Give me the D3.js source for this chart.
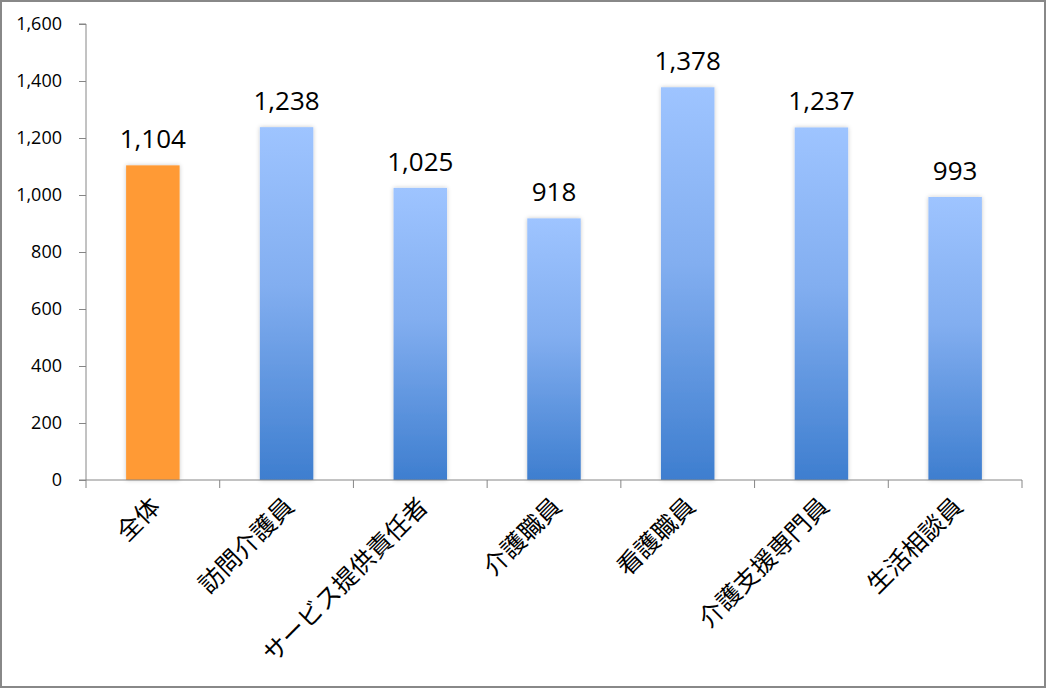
<!DOCTYPE html>
<html>
<head>
<meta charset="utf-8">
<script src="https://cdn.jsdelivr.net/npm/d3@7"></script>
<style>
  html, body { margin: 0; padding: 0; background: #fff; }
  svg { display: block; }
</style>
</head>
<body>
<script>
const categories = ["全体", "訪問介護員", "サービス提供責任者", "介護職員", "看護職員", "介護支援専門員", "生活相談員"];
const values = [1104, 1238, 1025, 918, 1378, 1237, 993];
const yTicks = [0, 200, 400, 600, 800, 1000, 1200, 1400, 1600];

const W = 1046, H = 688;
const margin = { left: 86, top: 24 };
const plotRight = 1022, plotBottom = 480;

const svg = d3.select("body").append("svg").attr("width", W).attr("height", H);
const defs = svg.append("defs");

const grad = defs.append("linearGradient").attr("id", "blueGrad")
  .attr("x1", 0).attr("y1", 0).attr("x2", 0).attr("y2", 1);
grad.append("stop").attr("offset", "0%").attr("stop-color", "#9EC4FF");
grad.append("stop").attr("offset", "45%").attr("stop-color", "#82AEF0");
grad.append("stop").attr("offset", "100%").attr("stop-color", "#3E7ECF");

const filt = defs.append("filter").attr("id", "shadow").attr("x", "-20%").attr("y", "-5%").attr("width", "140%").attr("height", "110%");
filt.append("feDropShadow").attr("dx", 0).attr("dy", 0).attr("stdDeviation", 2)
  .attr("flood-color", "#000").attr("flood-opacity", 0.22);

svg.append("rect").attr("x", 1).attr("y", 1).attr("width", W - 2).attr("height", H - 2)
  .attr("fill", "#fff").attr("stroke", "#888").attr("stroke-width", 2);

const x = d3.scaleBand().domain(categories).range([margin.left, plotRight]).paddingInner(0.6).paddingOuter(0.3);
const y = d3.scaleLinear().domain([0, 1600]).range([plotBottom, margin.top]);

// bars
svg.append("g").selectAll("rect").data(values).join("rect")
  .attr("x", (d, i) => x(categories[i]))
  .attr("y", d => y(d))
  .attr("width", x.bandwidth())
  .attr("height", d => y(0) - y(d))
  .attr("fill", (d, i) => i === 0 ? "#FF9A35" : "url(#blueGrad)")
  .attr("filter", "url(#shadow)");

// y axis
const yAxis = d3.axisLeft(y).tickValues(yTicks).tickSize(7).tickPadding(17).tickFormat(d3.format(","));
const gy = svg.append("g").attr("transform", `translate(${margin.left},0)`).call(yAxis);
gy.select(".domain").attr("stroke", "#868686").attr("d", `M-7,${margin.top}H0V${plotBottom}H-7`);
gy.selectAll(".tick line").attr("stroke", "#868686");
gy.selectAll(".tick text").attr("font-family", "'Open Sans', 'Liberation Sans', sans-serif")
  .attr("font-size", 18).attr("fill", "#000");

// x axis line with ticks at category boundaries
const bounds = d3.range(categories.length + 1).map(i => margin.left + i * (plotRight - margin.left) / categories.length);
const gx = svg.append("g");
gx.append("line").attr("x1", margin.left).attr("x2", plotRight).attr("y1", plotBottom).attr("y2", plotBottom)
  .attr("stroke", "#868686");
gx.selectAll("line.bt").data(bounds).join("line").attr("class", "bt")
  .attr("x1", d => d).attr("x2", d => d).attr("y1", plotBottom).attr("y2", plotBottom + 8)
  .attr("stroke", "#868686");

// category labels
svg.append("g").selectAll("text").data(categories).join("text")
  .attr("transform", d => `translate(${x(d) + x.bandwidth() / 2 + 3},${plotBottom + 22}) rotate(-45)`)
  .attr("text-anchor", "end")
  .attr("dy", "0.35em")
  .attr("font-family", "'Noto Sans CJK JP', sans-serif")
  .attr("font-size", 24.5)
  .attr("fill", "#000")
  .text(d => d);

// value labels
svg.append("g").selectAll("text").data(values).join("text")
  .attr("x", (d, i) => x(categories[i]) + x.bandwidth() / 2)
  .attr("y", d => y(d) - 17)
  .attr("text-anchor", "middle")
  .attr("font-family", "'Open Sans', 'Liberation Sans', sans-serif")
  .attr("font-size", 26)
  .attr("fill", "#000")
  .text(d => d3.format(",")(d));
</script>
</body>
</html>
